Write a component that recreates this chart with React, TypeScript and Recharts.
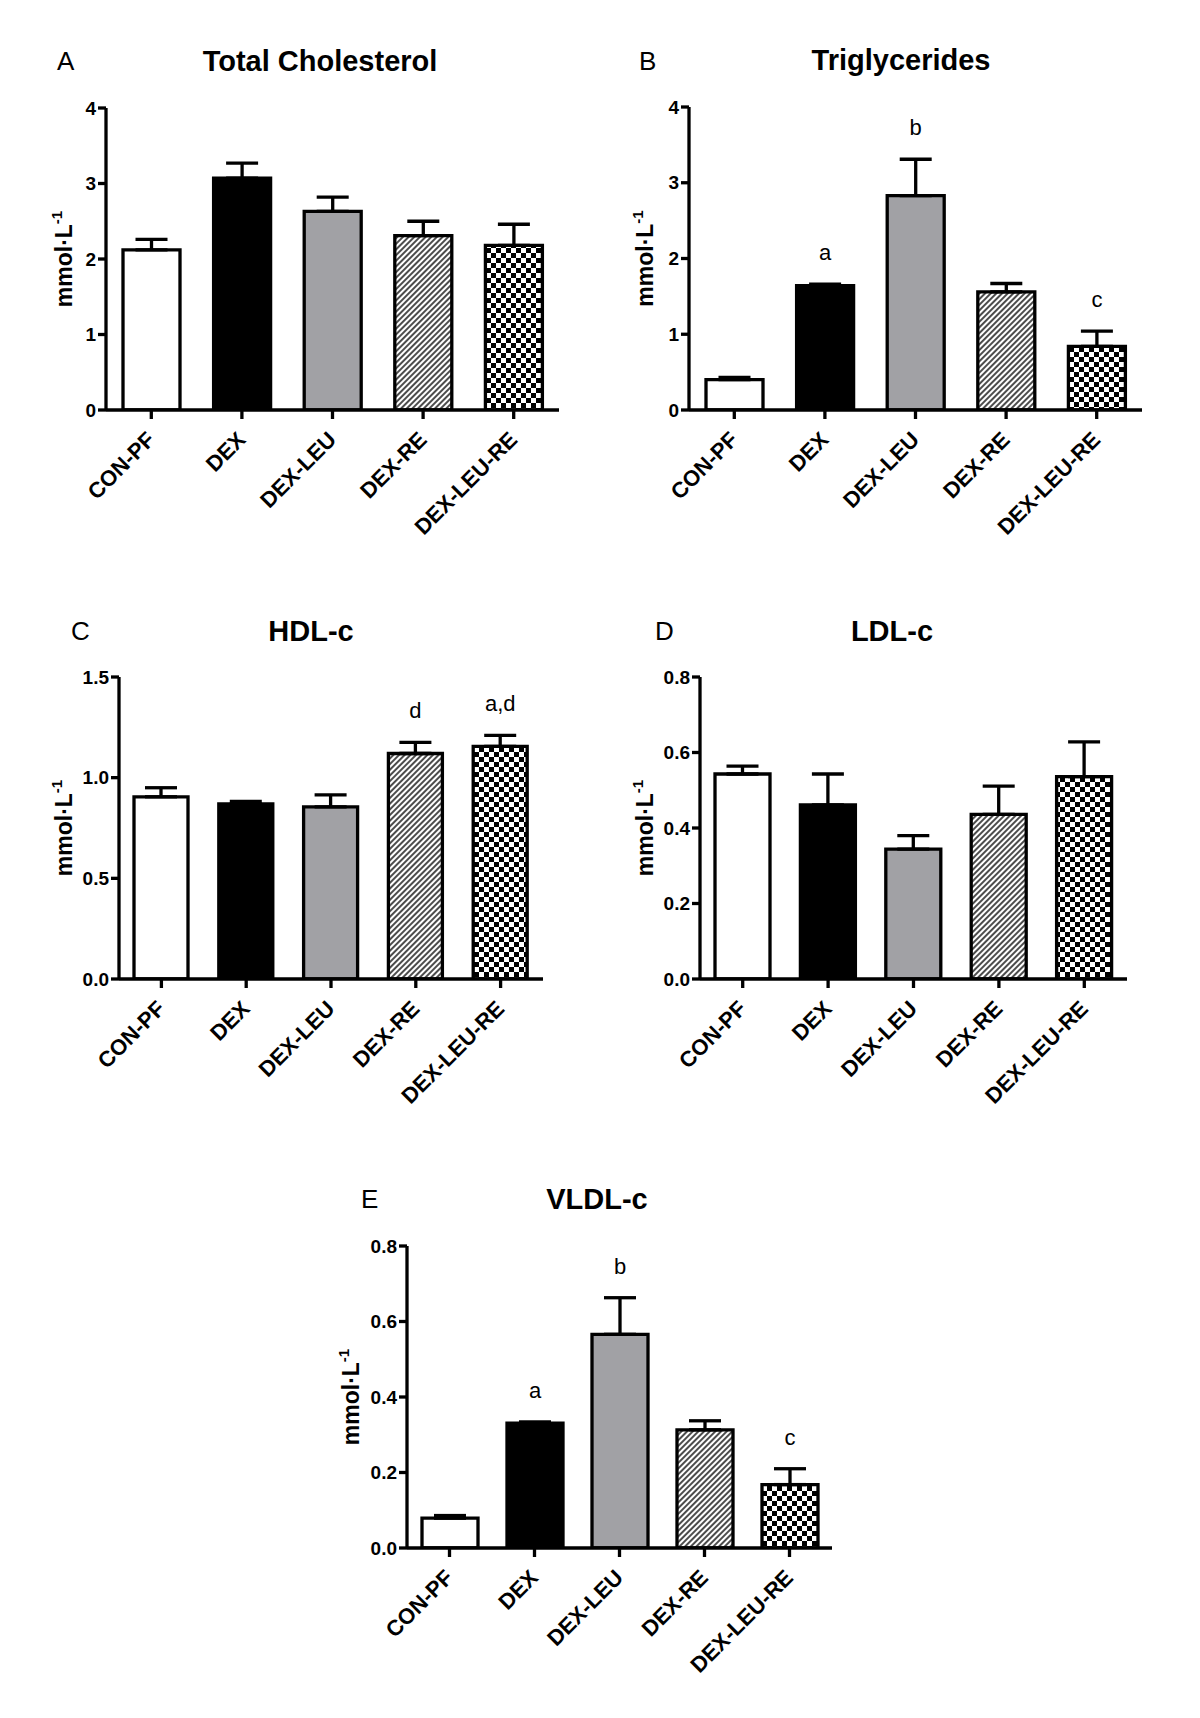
import React from "react";
import { BarChart, Bar, XAxis, YAxis, Cell, ErrorBar, LabelList } from "recharts";

const groups = ["CON-PF", "DEX", "DEX-LEU", "DEX-RE", "DEX-LEU-RE"];

// mean and upper SEM per group (mmol/L)
const cholMean = [2.12, 3.07, 2.63, 2.31, 2.18];
const cholSem = [0.14, 0.2, 0.19, 0.19, 0.28];
const cholSig = ["", "", "", "", ""];

const tgMean = [0.4, 1.64, 2.83, 1.56, 0.84];
const tgSem = [0.03, 0.02, 0.48, 0.11, 0.2];
const tgSig = ["", "a", "b", "", "c"];

const hdlMean = [0.905, 0.87, 0.855, 1.12, 1.155];
const hdlSem = [0.045, 0.012, 0.06, 0.055, 0.055];
const hdlSig = ["", "", "", "d", "a,d"];

const ldlMean = [0.543, 0.461, 0.344, 0.436, 0.536];
const ldlSem = [0.021, 0.082, 0.036, 0.075, 0.092];
const ldlSig = ["", "", "", "", ""];

const vldlMean = [0.079, 0.331, 0.566, 0.313, 0.168];
const vldlSem = [0.007, 0.003, 0.097, 0.024, 0.042];
const vldlSig = ["", "a", "b", "", "c"];

const ticksWide = [0, 1, 2, 3, 4];
const ticksHdl = [0, 0.5, 1, 1.5];
const ticksSmall = [0, 0.2, 0.4, 0.6, 0.8];

const FONT = "Arial, 'Liberation Sans', Helvetica, sans-serif";
const LINE = 3.3;

function SlantTick({ x, y, payload }: any) {
  return (
    <g transform={`translate(${x + 5},${y + 22})`}>
      <text
        textAnchor="end"
        transform="rotate(-45)"
        fontFamily={FONT}
        fontSize={22}
        fontWeight={700}
        fill="#000"
      >
        {payload.value}
      </text>
    </g>
  );
}

type PanelProps = {
  id: string;
  means: number[];
  errs: number[];
  sig: string[];
  ticks: number[];
  digits: number;
  plotLeft: number;
  plotTop: number;
  plotW: number;
  plotH: number;
  barSize: number;
  unitGap: number;
};

function Panel(p: PanelProps) {
  const rows = groups.map((name, i) => ({
    name,
    mean: p.means[i],
    err: [0, p.errs[i]],
    letter: p.sig[i],
  }));
  const fills = ["#ffffff", "#000000", "#a1a1a5", `url(#${p.id}-hatch)`, `url(#${p.id}-check)`];
  const yW = 90;
  const mTop = 30;
  const mRight = 20;
  const xH = 140;
  const top = p.ticks[p.ticks.length - 1];

  const letter = (props: any) => {
    const vb = props.viewBox || props;
    let i = props.index;
    if (i === undefined) i = rows.findIndex((r) => r.letter === props.value);
    const r = rows[i];
    if (!r || !r.letter) return null;
    const h = Math.abs(vb.height);
    const barTop = Math.min(vb.y, vb.y + vb.height);
    const errTop = barTop - (r.err[1] * h) / r.mean;
    return (
      <text
        key={`sig-${i}`}
        x={vb.x + vb.width / 2}
        y={errTop - 24}
        textAnchor="middle"
        fontFamily={FONT}
        fontSize={22}
        fill="#000"
      >
        {r.letter}
      </text>
    );
  };

  const unitLabel = () => {
    const cy = mTop + p.plotH / 2;
    const bx = yW - p.unitGap;
    return (
      <text
        transform={`translate(${bx},${cy}) rotate(-90)`}
        textAnchor="middle"
        fontFamily={FONT}
        fontSize={23}
        fontWeight={700}
        fill="#000"
      >
        mmol·L
        <tspan dy={-10} fontSize={15}>-1</tspan>
      </text>
    );
  };

  return (
    <div style={{ position: "absolute", left: p.plotLeft - yW, top: p.plotTop - mTop }}>
      <BarChart
        width={yW + p.plotW + mRight}
        height={mTop + p.plotH + xH}
        data={rows}
        margin={{ top: mTop, right: mRight, left: 0, bottom: 0 }}
      >
        <defs>
          <pattern
            id={`${p.id}-hatch`}
            patternUnits="userSpaceOnUse"
            width={4}
            height={4}
            patternTransform="rotate(45)"
          >
            <rect width={4} height={4} fill="#fff" />
            <line x1={2} y1={0} x2={2} y2={4} stroke="#000" strokeWidth={1.4} />
          </pattern>
          <pattern id={`${p.id}-check`} patternUnits="userSpaceOnUse" width={10} height={10}>
            <rect width={10} height={10} fill="#fff" />
            <rect width={5} height={5} fill="#000" />
            <rect x={5} y={5} width={5} height={5} fill="#000" />
          </pattern>
        </defs>
        <XAxis
          dataKey="name"
          interval={0}
          height={xH}
          axisLine={{ stroke: "#000", strokeWidth: LINE }}
          tickLine={{ stroke: "#000", strokeWidth: LINE }}
          tickSize={9}
          tickMargin={0}
          tick={<SlantTick />}
        />
        <YAxis
          width={yW}
          domain={[0, top]}
          ticks={p.ticks}
          interval={0}
          allowDataOverflow
          tickFormatter={(v: number) => v.toFixed(p.digits)}
          axisLine={{ stroke: "#000", strokeWidth: LINE }}
          tickLine={{ stroke: "#000", strokeWidth: LINE }}
          tickSize={8}
          tickMargin={2}
          tick={{ fill: "#000", fontSize: 19, fontWeight: 700, fontFamily: FONT }}
          label={unitLabel}
        />
        <Bar dataKey="mean" barSize={p.barSize} stroke="#000" strokeWidth={LINE} isAnimationActive={false}>
          {rows.map((r, i) => (
            <Cell key={r.name} fill={fills[i]} />
          ))}
          <ErrorBar dataKey="err" direction="y" width={16} stroke="#000" strokeWidth={LINE} />
          <LabelList dataKey="letter" content={letter} />
        </Bar>
      </BarChart>
    </div>
  );
}

export default function App() {
  const heads = [
    { tag: "A", lx: 57, ly: 70, title: "Total Cholesterol", tx: 320, ty: 71 },
    { tag: "B", lx: 639, ly: 70, title: "Triglycerides", tx: 901, ty: 70 },
    { tag: "C", lx: 71, ly: 640, title: "HDL-c", tx: 311, ty: 641 },
    { tag: "D", lx: 655, ly: 640, title: "LDL-c", tx: 892, ty: 641 },
    { tag: "E", lx: 361, ly: 1208, title: "VLDL-c", tx: 597, ty: 1209 },
  ];
  return (
    <div style={{ position: "absolute", left: 0, top: 0, width: 1200, height: 1718, background: "#fff" }}>
      <Panel id="tc" means={cholMean} errs={cholSem} sig={cholSig} ticks={ticksWide} digits={0}
        plotLeft={106} plotTop={108} plotW={453} plotH={302} barSize={57} unitGap={34} />
      <Panel id="tg" means={tgMean} errs={tgSem} sig={tgSig} ticks={ticksWide} digits={0}
        plotLeft={689} plotTop={107} plotW={453} plotH={303} barSize={57} unitGap={36} />
      <Panel id="hdl" means={hdlMean} errs={hdlSem} sig={hdlSig} ticks={ticksHdl} digits={1}
        plotLeft={119} plotTop={677} plotW={424} plotH={302} barSize={54} unitGap={47} />
      <Panel id="ldl" means={ldlMean} errs={ldlSem} sig={ldlSig} ticks={ticksSmall} digits={1}
        plotLeft={700} plotTop={677} plotW={427} plotH={302} barSize={55} unitGap={47} />
      <Panel id="vldl" means={vldlMean} errs={vldlSem} sig={vldlSig} ticks={ticksSmall} digits={1}
        plotLeft={407} plotTop={1246} plotW={425} plotH={302} barSize={56} unitGap={48} />
      <svg width={1200} height={1718} style={{ position: "absolute", left: 0, top: 0, pointerEvents: "none" }}>
        {heads.map((h) => (
          <g key={h.tag}>
            <text x={h.lx} y={h.ly} fontFamily={FONT} fontSize={26} fill="#000">
              {h.tag}
            </text>
            <text x={h.tx} y={h.ty} textAnchor="middle" fontFamily={FONT} fontSize={29} fontWeight={700} fill="#000">
              {h.title}
            </text>
          </g>
        ))}
      </svg>
    </div>
  );
}
